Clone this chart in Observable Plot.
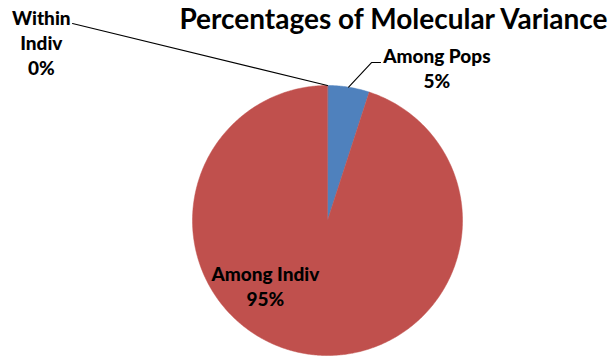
<!DOCTYPE html>
<html>
<head>
<meta charset="utf-8">
<script src="https://cdn.jsdelivr.net/npm/d3@7"></script>
<script src="https://cdn.jsdelivr.net/npm/@observablehq/plot@0.6"></script>
<style>
  html, body { margin: 0; padding: 0; background: #fff; }
  #chart { width: 613px; height: 358px; }
</style>
</head>
<body>
<div id="chart"></div>
<script>
// ---- data ----
const title = "Percentages of Molecular Variance";
const categories = ["Among Pops", "Among Indiv", "Within Indiv"];
const labelNames = ["Among Pops", "Among Indiv", "Within\nIndiv"];
const values = [5, 95, 0];
const colors = ["#4F81BD", "#C0504D", "#9BBB59"];

// ---- layout (chart units: pie radius = 1) ----
const W = 613, H = 358;
const R = 135, CX = 327, CY = 220;
const xDomain = [-CX / R, (W - CX) / R];
const yDomain = [-(H - CY) / R, CY / R];
// label anchors and leader elbows (chart units)
const labelLayout = {
  "Among Pops":   {x: 0.81,  y: 1.137, leader: [[0.326, 1.170], [0.393, 1.170]]},
  "Among Indiv":  {x: -0.46, y: -0.478, leader: null},
  "Within Indiv": {x: -2.12, y: 1.322, leader: [[-1.889, 1.459]]}
};

// ---- build slices with d3.pie ----
const total = d3.sum(values);
const pie = d3.pie().sort(null).value(d => d.value)(
  categories.map((c, i) => ({name: c, value: values[i], color: colors[i], label: labelNames[i]}))
);
const slicePts = [];
pie.forEach(s => {
  if (s.endAngle - s.startAngle <= 0) return;
  const n = Math.max(2, Math.ceil((s.endAngle - s.startAngle) / 0.01));
  slicePts.push({name: s.data.name, x: 0, y: 0});
  for (let k = 0; k <= n; k++) {
    const a = s.startAngle + (s.endAngle - s.startAngle) * k / n;
    slicePts.push({name: s.data.name, x: Math.sin(a), y: Math.cos(a)});
  }
});

// leader lines
const leaderPts = [];
const labels = [];
pie.forEach(s => {
  const L = labelLayout[s.data.name];
  const pct = Math.round(s.data.value / total * 100) + "%";
  labels.push({name: s.data.name, x: L.x, y: L.y, text: s.data.label + "\n" + pct});
  if (L.leader) {
    const mid = (s.startAngle + s.endAngle) / 2;
    leaderPts.push({name: s.data.name, x: Math.sin(mid), y: Math.cos(mid)});
    L.leader.forEach(p => leaderPts.push({name: s.data.name, x: p[0], y: p[1]}));
  }
});

const font = "Lato, 'Open Sans', sans-serif";

const chart = Plot.plot({
  width: W,
  height: H,
  margin: 0,
  style: {background: "#fff", fontFamily: font},
  x: {domain: xDomain, axis: null},
  y: {domain: yDomain, axis: null},
  color: {domain: categories, range: colors},
  marks: [
    Plot.line(slicePts, {x: "x", y: "y", z: "name", fill: "name", stroke: "name", strokeWidth: 0.5, curve: "linear-closed"}),
    Plot.line(leaderPts, {x: "x", y: "y", z: "name", stroke: "#000", strokeWidth: 1.1}),
    Plot.text(labels, {x: "x", y: "y", text: "text", fontSize: 19, fontWeight: 900, lineHeight: 1.32, fill: "#000", textAnchor: "middle"}),
    Plot.text([title], {frameAnchor: "top-right", dx: -6, dy: 9, lineAnchor: "top", textAnchor: "end", fontSize: 28, fontWeight: "bold", fill: "#000"})
  ]
});
document.getElementById("chart").appendChild(chart);
</script>
</body>
</html>
